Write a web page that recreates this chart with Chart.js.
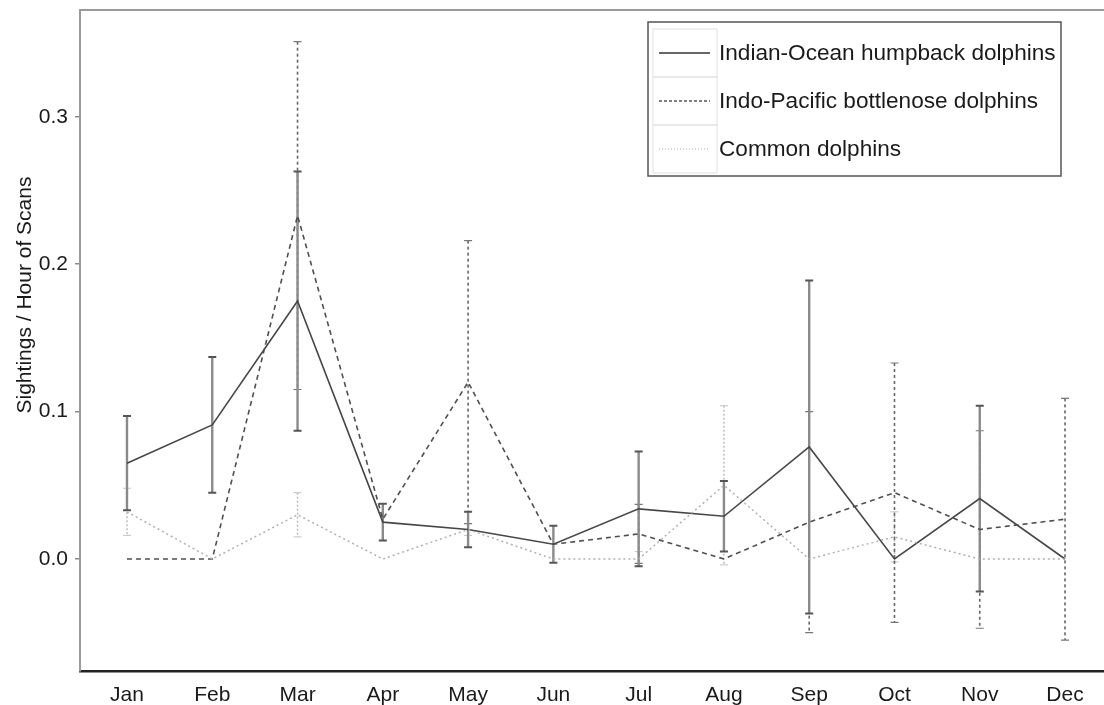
<!DOCTYPE html>
<html>
<head>
<meta charset="utf-8">
<script src="https://cdn.jsdelivr.net/npm/chart.js@4"></script>
<style>
html,body{margin:0;padding:0;background:#fff;}
#wrap{width:1104px;height:705px;}
</style>
</head>
<body>
<div id="wrap"><canvas id="c" width="1104" height="705"></canvas></div>
<script>
const months = ["Jan","Feb","Mar","Apr","May","Jun","Jul","Aug","Sep","Oct","Nov","Dec"];
const yTicks = [0, 0.1, 0.2, 0.3];

const humpback = [0.065, 0.091, 0.175, 0.025, 0.020, 0.010, 0.034, 0.029, 0.076, 0.000, 0.041, 0.000];
const humpbackErr = [0.032, 0.046, 0.088, 0.0125, 0.012, 0.0125, 0.039, 0.024, 0.113, 0, 0.063, 0];

const bottlenose = [0.000, 0.000, 0.233, 0.027, 0.120, 0.010, 0.017, 0.000, 0.025, 0.045, 0.020, 0.027];
const bottlenoseErr = [0, 0, 0.118, 0, 0.096, 0, 0.020, 0, 0.075, 0.088, 0.067, 0.082];

const common = [0.032, 0.000, 0.030, 0.000, 0.020, 0.000, 0.000, 0.050, 0.000, 0.015, 0.000, 0.000];
const commonErr = [0.016, 0, 0.015, 0, 0.004, 0, 0.005, 0.054, 0, 0.017, 0, 0];

const seriesNames = ["Indian-Ocean humpback dolphins", "Indo-Pacific bottlenose dolphins", "Common dolphins"];
const yTitle = "Sightings / Hour of Scans";

const FONT = "'Liberation Sans', Arial, sans-serif";

function pts(arr){ return arr.map((v,i)=>({x:i+1, y:v})); }

const styles = [
  {line:'#474747', width:1.6, dash:[], err:'#8a8a8a', errW:2.4, errDash:[], cap:'#555', capW:2},
  {line:'#4f4f4f', width:1.6, dash:[5,4], err:'#666', errW:1.6, errDash:[3,3], cap:'#777', capW:1.2},
  {line:'#b0b0b0', width:1.5, dash:[2,3], err:'#bdbdbd', errW:1.5, errDash:[2,2], cap:'#c4c4c4', capW:1}
];
const errs = [humpbackErr, bottlenoseErr, commonErr];
const vals = [humpback, bottlenose, common];

const errorBars = {
  id:'errorBars',
  beforeDatasetsDraw(chart){
    const ctx = chart.ctx, xs = chart.scales.x, ys = chart.scales.y;
    for (let d = 2; d >= 0; d--){
      const st = styles[d];
      vals[d].forEach((v,i)=>{
        const e = errs[d][i];
        if (!e) return;
        const px = xs.getPixelForValue(i+1);
        const top = ys.getPixelForValue(v+e), bot = ys.getPixelForValue(v-e);
        ctx.save();
        ctx.strokeStyle = st.err; ctx.lineWidth = st.errW; ctx.setLineDash(st.errDash);
        ctx.beginPath(); ctx.moveTo(px, top); ctx.lineTo(px, bot); ctx.stroke();
        ctx.setLineDash([]);
        ctx.strokeStyle = st.cap; ctx.lineWidth = st.capW;
        ctx.beginPath();
        ctx.moveTo(px-4, top); ctx.lineTo(px+4, top);
        ctx.moveTo(px-4, bot); ctx.lineTo(px+4, bot);
        ctx.stroke();
        ctx.restore();
      });
    }
  }
};

const frame = {
  id:'frame',
  afterDraw(chart){
    const ctx = chart.ctx, a = chart.chartArea;
    ctx.save();
    ctx.strokeStyle = '#9a9a9a'; ctx.lineWidth = 2;
    ctx.beginPath(); ctx.moveTo(a.left-1, a.top); ctx.lineTo(a.right, a.top); ctx.stroke();
    ctx.fillStyle = '#1a1a1a';
    ctx.font = "21px " + FONT;
    ctx.textAlign = 'center'; ctx.textBaseline = 'middle';
    ctx.translate(25, 295); ctx.rotate(-Math.PI/2);
    ctx.fillText(yTitle, 0, 0);
    ctx.restore();

    ctx.save();
    const bx = 648, by = 22, bw = 413, bh = 154;
    ctx.fillStyle = '#fff';
    ctx.fillRect(bx, by, bw, bh);
    ctx.strokeStyle = '#555'; ctx.lineWidth = 1.5;
    ctx.strokeRect(bx, by, bw, bh);
    const rowTop = 29, rowH = 48;
    const legStyles = [
      {c:'#333', dash:[], w:1.5},
      {c:'#555', dash:[3,2], w:1.3},
      {c:'#aaa', dash:[1,2], w:1.2}
    ];
    ctx.font = "22.6px " + FONT;
    ctx.textAlign = 'left'; ctx.textBaseline = 'middle';
    for (let i=0;i<3;i++){
      const y0 = rowTop + i*rowH;
      ctx.strokeStyle = '#e2e2e2'; ctx.lineWidth = 1; ctx.setLineDash([]);
      ctx.strokeRect(653, y0, 64, rowH);
      const cy = y0 + rowH/2;
      ctx.strokeStyle = legStyles[i].c; ctx.lineWidth = legStyles[i].w; ctx.setLineDash(legStyles[i].dash);
      ctx.beginPath(); ctx.moveTo(659, cy); ctx.lineTo(710, cy); ctx.stroke();
      ctx.setLineDash([]);
      ctx.fillStyle = '#1a1a1a';
      ctx.fillText(seriesNames[i], 719, cy+1);
    }
    ctx.restore();
  }
};

new Chart(document.getElementById('c'), {
  type:'line',
  data:{
    datasets: vals.map((v,d)=>({
      label: seriesNames[d],
      data: pts(v),
      borderColor: styles[d].line,
      borderWidth: styles[d].width,
      borderDash: styles[d].dash,
      pointRadius: 0,
      fill:false,
      tension:0,
      order: 3-d
    }))
  },
  options:{
    responsive:false,
    animation:false,
    devicePixelRatio:1,
    layout:{padding:{top:10,right:0,left:0,bottom:0}},
    plugins:{legend:{display:false}, tooltip:{enabled:false}},
    scales:{
      x:{
        type:'linear', min:0.449, max:12.457,
        afterBuildTicks(s){ s.ticks = months.map((m,i)=>({value:i+1})); },
        afterFit(s){ s.height = 34; s.paddingLeft = 0; s.paddingRight = 0; },
        grid:{display:false},
        border:{display:true, color:'#222', width:2.5},
        ticks:{
          padding:4, color:'#1a1a1a', autoSkip:false, maxRotation:0,
          font:{family:FONT, size:21},
          callback:(v)=>months[Math.round(v)-1]
        }
      },
      y:{
        type:'linear', min:-0.076, max:0.3725,
        afterBuildTicks(s){ s.ticks = yTicks.map(v=>({value:v})); },
        afterFit(s){ s.width = 80; s.paddingTop = 0; s.paddingBottom = 0; },
        grid:{display:true, drawOnChartArea:false, drawTicks:true, tickLength:5, color:'#8a8a8a', lineWidth:1.5},
        border:{display:true, color:'#9a9a9a', width:2},
        ticks:{
          padding:7, color:'#1a1a1a',
          font:{family:FONT, size:21},
          callback:(v)=>Number(v).toFixed(1)
        }
      }
    }
  },
  plugins:[errorBars, frame]
});
</script>
</body>
</html>
